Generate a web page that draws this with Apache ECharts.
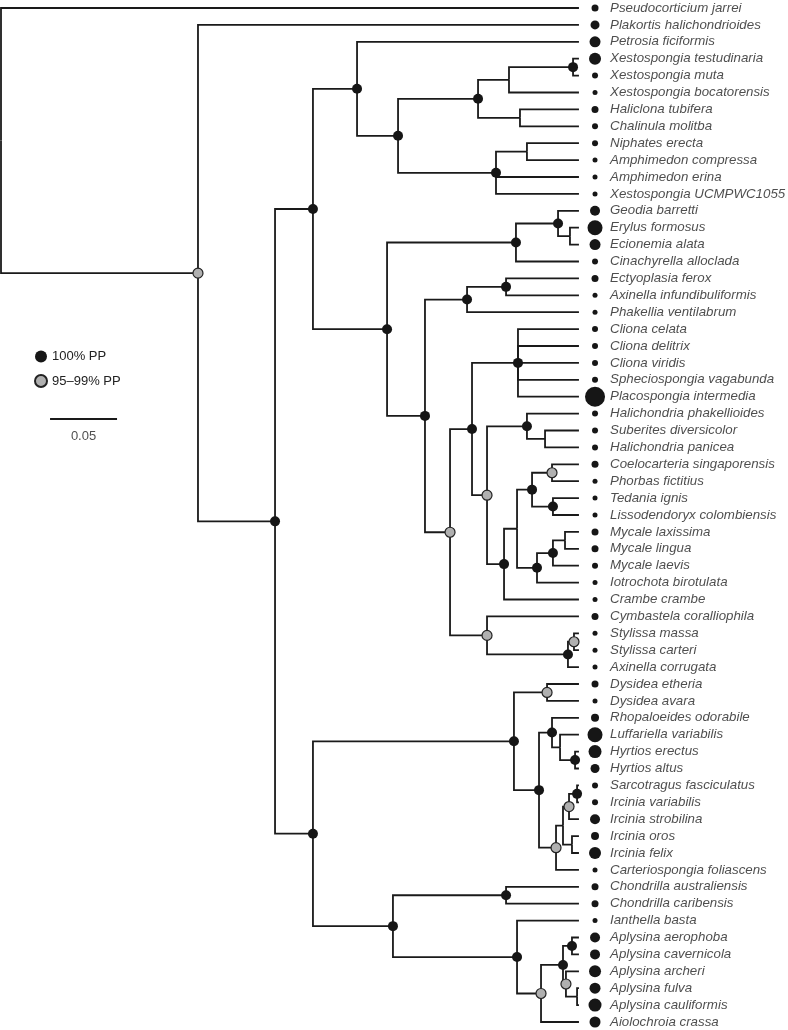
<!DOCTYPE html>
<html><head><meta charset="utf-8">
<script src="https://cdn.jsdelivr.net/npm/echarts@6/dist/echarts.min.js"></script>
<style>html,body{margin:0;padding:0;background:#fff}#c{width:788px;height:1030px}</style>
</head><body><div id="c"></div>
<script>
// ---- DATA ----
const leaves = ["Pseudocorticium jarrei","Plakortis halichondrioides","Petrosia ficiformis","Xestospongia testudinaria","Xestospongia muta","Xestospongia bocatorensis","Haliclona tubifera","Chalinula molitba","Niphates erecta","Amphimedon compressa","Amphimedon erina","Xestospongia UCMPWC1055","Geodia barretti","Erylus formosus","Ecionemia alata","Cinachyrella alloclada","Ectyoplasia ferox","Axinella infundibuliformis","Phakellia ventilabrum","Cliona celata","Cliona delitrix","Cliona viridis","Spheciospongia vagabunda","Placospongia intermedia","Halichondria phakellioides","Suberites diversicolor","Halichondria panicea","Coelocarteria singaporensis","Phorbas fictitius","Tedania ignis","Lissodendoryx colombiensis","Mycale laxissima","Mycale lingua","Mycale laevis","Iotrochota birotulata","Crambe crambe","Cymbastela coralliophila","Stylissa massa","Stylissa carteri","Axinella corrugata","Dysidea etheria","Dysidea avara","Rhopaloeides odorabile","Luffariella variabilis","Hyrtios erectus","Hyrtios altus","Sarcotragus fasciculatus","Ircinia variabilis","Ircinia strobilina","Ircinia oros","Ircinia felix","Carteriospongia foliascens","Chondrilla australiensis","Chondrilla caribensis","Ianthella basta","Aplysina aerophoba","Aplysina cavernicola","Aplysina archeri","Aplysina fulva","Aplysina cauliformis","Aiolochroia crassa"];
const leafSize = [7,9,11,12,6,5,7,6,6,5,5,5,10,15,11,6,7,5,5,6,6,6,6,20,6,6,6,7,5,5,5,7,7,6,5,5,7,5,5,5,7,5,8,15,13,9,6,6,10,8,12,5,7,7,5,10,10,12,11,13,11];
const leafParent = ["root","A","E","L","L","J","K","K","M","M","I","I","P","Q","Q","N","T","T","R","U","U","U","U","U","V","Z","Z","DD","DD","EE","EE","GG","GG","FF","CC","Y","HH","JJ","JJ","II","MM","MM","OO","RR","QQ","QQ","WW","WW","UU","VV","VV","PP","XX","XX","YY","AC","AC","AD","AE","AE","ZZ"];
const nodeIds     = ["root","A","B","C","D","E","F","G","H","J","L","K","I","M","N","P","Q","O","R","T","S","W","U","X","V","Z","Y","AA","BB","DD","EE","CC","FF","GG","HH","II","JJ","KK","MM","NN","OO","RR","QQ","PP","TT","UU","WW","VV","LL","XX","YY","ZZ","AB","AC","AD","AE"];
const nodeParent  = [null,"root","A","B","B","C","C","E","G","H","J","H","G","I","F","N","P","F","O","R","O","S","W","W","X","V","X","Y","AA","BB","BB","AA","CC","FF","S","HH","II","D","KK","KK","NN","OO","RR","NN","PP","TT","UU","TT","D","LL","LL","YY","ZZ","AB","AB","AD"];
const nodeDepth   = [0,0.147,0.2045,0.2328,0.2328,0.2657,0.2881,0.2963,0.356,0.3791,0.4269,0.3873,0.3694,0.3925,0.3843,0.4157,0.4246,0.3164,0.3478,0.3769,0.3351,0.3515,0.3858,0.3627,0.3925,0.406,0.3754,0.3851,0.3963,0.4112,0.4119,0.4,0.4119,0.4209,0.3627,0.4231,0.4276,0.3828,0.4075,0.4015,0.4112,0.4172,0.4284,0.4142,0.4194,0.4239,0.4299,0.4261,0.2925,0.3769,0.3851,0.403,0.4194,0.4261,0.4216,0.4299];
const nodeSupport = [null,95,100,100,100,100,100,100,100,null,100,null,100,null,100,100,null,100,100,100,95,100,100,95,100,null,100,null,100,95,100,100,100,null,95,100,95,100,95,100,100,null,100,95,null,95,100,null,100,100,100,95,100,100,95,null];
const tipDepth = 0.4313;
const scaleBar = 0.05;
const legendNames = ["100% PP","95\u201399% PP"];

// ---- tree layout ----
const depth = {}, parent = {}, support = {}, kids = {};
nodeIds.forEach((id,i)=>{depth[id]=nodeDepth[i];parent[id]=nodeParent[i];support[id]=nodeSupport[i];kids[id]=[];});
leaves.forEach((n,i)=>kids[leafParent[i]].push({leaf:i}));
nodeIds.forEach(id=>{ if(parent[id]) kids[parent[id]].push({node:id}); });
const yc = {};
function nodeY(id){
  if (yc[id]!==undefined) return yc[id];
  const ys = kids[id].map(k => k.leaf!==undefined ? k.leaf : nodeY(k.node));
  yc[id] = (Math.min(...ys)+Math.max(...ys))/2;
  return yc[id];
}
nodeIds.forEach(nodeY);
const paths = [];
nodeIds.forEach(id=>{
  const px = depth[id], py = yc[id];
  kids[id].forEach(k=>{
    const cy = k.leaf!==undefined ? k.leaf : yc[k.node];
    const cx = k.leaf!==undefined ? tipDepth : depth[k.node];
    paths.push({coords:[[px,py],[px,cy],[cx,cy]]});
  });
});
const full = [], part = [];
nodeIds.forEach(id=>{
  if (support[id]===100) full.push([depth[id], yc[id]]);
  else if (support[id]===95) part.push([depth[id], yc[id]]);
});
const dotX = 0.4433, labX = 0.4545;
const sbX = 0.0366, sbY = 24.32;
const FONT = 'Liberation Sans, Arial, sans-serif';

const chart = echarts.init(document.getElementById('c'), null, {renderer:'canvas'});
chart.setOption({
  animation:false,
  backgroundColor:'#fff',
  grid:{left:1, top:8, width:670, height:1014},
  xAxis:{type:'value', min:0, max:0.5, show:false},
  yAxis:{type:'value', min:0, max:60, inverse:true, show:false},
  legend:{data:legendNames, orient:'vertical', left:29, top:345, itemWidth:12, itemHeight:12, itemGap:11,
    textStyle:{fontSize:13, color:'#222', fontFamily:FONT}},
  series:[
    {type:'lines', coordinateSystem:'cartesian2d', polyline:true, silent:true, z:1,
     lineStyle:{color:'#1a1a1a', width:1.8, opacity:1}, data:paths},
    {type:'lines', coordinateSystem:'cartesian2d', silent:true, z:1,
     lineStyle:{color:'#1a1a1a', width:1.8, opacity:1}, data:[{coords:[[sbX,sbY],[sbX+scaleBar,sbY]]}]},
    {type:'scatter', silent:true, symbolSize:0, z:3, data:[[sbX+scaleBar/2, sbY, String(scaleBar)]],
     label:{show:true, position:'bottom', distance:11, formatter:p=>p.value[2], fontSize:13, color:'#222', fontFamily:FONT}},
    {name:legendNames[0], type:'scatter', symbol:'circle', symbolSize:10, z:4, data:full,
     itemStyle:{color:'#161616', opacity:1}},
    {name:legendNames[1], type:'scatter', symbol:'circle', symbolSize:10, z:4, data:part,
     itemStyle:{color:'#b0b0b0', borderColor:'#222', borderWidth:1.2, opacity:1}},
    {type:'scatter', symbol:'circle', z:4, silent:true,
     data:leaves.map((n,i)=>[dotX, i, leafSize[i]]), symbolSize:v=>v[2], itemStyle:{color:'#161616', opacity:1}},
    {type:'scatter', symbolSize:0, z:4, silent:true,
     data:leaves.map((n,i)=>[labX, i, n]),
     label:{show:true, position:'right', distance:0, formatter:p=>p.value[2], fontSize:13.3, fontStyle:'italic', color:'#222', fontFamily:FONT}}
  ]
});
</script></body></html>
